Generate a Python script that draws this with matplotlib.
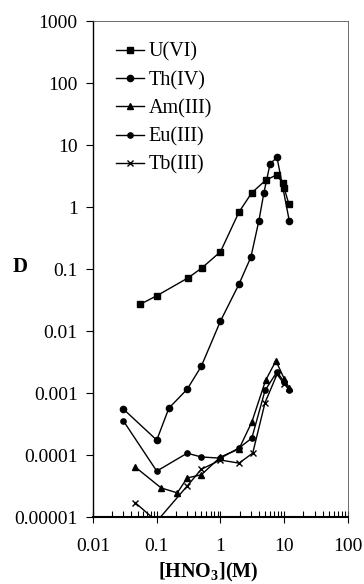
import numpy as np
import matplotlib
matplotlib.use('Agg')
from matplotlib import pyplot as plt
from matplotlib import ticker

plt.rcParams['font.family'] = ['Liberation Serif', 'DejaVu Serif']
plt.rcParams['mathtext.fontset'] = 'custom'
plt.rcParams['mathtext.rm'] = 'Liberation Serif'
plt.rcParams['mathtext.bf'] = 'Liberation Serif:bold'

# data
u_x = [0.055, 0.1, 0.31, 0.51, 1.0, 1.95, 3.1, 5.1, 7.6, 9.6, 10.0, 11.8]
u_y = [0.027, 0.037, 0.072, 0.104, 0.19, 0.83, 1.7, 2.7, 3.3, 2.4, 2.0, 1.12]

th_x = [0.03, 0.1, 0.155, 0.3, 0.5, 1.0, 1.95, 3.0, 4.0, 4.8, 6.0, 7.7, 12.0]
th_y = [0.00055, 0.000174, 0.00057, 0.00115, 0.0027, 0.0145, 0.057, 0.156, 0.6, 1.7, 5.0, 6.3, 0.6]

am_x = [0.046, 0.117, 0.21, 0.3, 0.5, 1.0, 1.95, 3.1, 5.1, 7.4, 10.0, 12.0]
am_y = [0.000064, 0.0000295, 0.0000245, 0.0000427, 0.000048, 0.000093, 0.000125, 0.00034, 0.0016, 0.0033, 0.0017, 0.0012]

eu_x = [0.03, 0.1, 0.3, 0.5, 1.0, 1.95, 3.1, 5.0, 7.7, 10.0, 12.0]
eu_y = [0.000355, 0.000055, 0.000107, 0.000093, 0.000089, 0.00013, 0.000187, 0.0011, 0.0022, 0.0015, 0.0011]

tb_x = [0.046, 0.1, 0.3, 0.5, 1.0, 1.95, 3.2, 5.0, 7.7, 10.0]
tb_y = [0.000017, 0.0000085, 0.0000316, 0.000059, 0.000083, 0.000074, 0.000107, 0.0007, 0.002, 0.0014]

y_ticks = [0.00001, 0.0001, 0.001, 0.01, 0.1, 1, 10, 100, 1000]
y_labels = ['0.00001', '0.0001', '0.001', '0.01', '0.1', '1', '10', '100', '1000']
x_ticks = [0.01, 0.1, 1, 10, 100]
x_labels = ['0.01', '0.1', '1', '10', '100']

fig = plt.figure(figsize=(3.64, 5.84), dpi=100)
ax = fig.add_axes([0.2555, 0.1147, 0.7005, 0.8493])

kw = dict(color='black', lw=1.0)
ax.plot(u_x, u_y, marker='s', ms=4.5, label='U(VI)', **kw)
ax.plot(th_x, th_y, marker='o', ms=4.5, label='Th(IV)', **kw)
ax.plot(am_x, am_y, marker='^', ms=4.5, label='Am(III)', **kw)
ax.plot(eu_x, eu_y, marker='o', ms=3.8, label='Eu(III)', **kw)
ax.plot(tb_x, tb_y, marker='x', ms=5, mew=1.0, label='Tb(III)', **kw)

ax.set_xscale('log')
ax.set_yscale('log')
ax.set_xlim(0.01, 100)
ax.set_ylim(0.00001, 1000)

ax.set_yticks(y_ticks)
ax.set_yticklabels(y_labels)
ax.yaxis.set_minor_locator(ticker.NullLocator())
ax.set_xticks(x_ticks)
ax.set_xticklabels(x_labels)
ax.xaxis.set_minor_locator(ticker.LogLocator(base=10, subs=np.arange(2, 10)))
ax.xaxis.set_minor_formatter(ticker.NullFormatter())

ax.tick_params(axis='y', which='major', direction='out', length=5, width=0.8, pad=6, labelsize=14)
ax.tick_params(axis='x', which='major', direction='inout', length=8, width=0.8, pad=11, labelsize=14)
ax.tick_params(axis='x', which='minor', direction='in', length=4, width=0.8)

ax.spines['bottom'].set_linewidth(1.5)
ax.spines['left'].set_linewidth(1.0)
for s in ['top', 'right']:
    ax.spines[s].set_linewidth(0.6)
    ax.spines[s].set_color('#555555')

ax.set_xlabel('[HNO$_\\mathbf{3}$](M)', fontsize=14.5, fontweight='bold')
ax.xaxis.set_label_coords(0.45, -0.112)
ax.xaxis.label.set_va('center')
ax.set_ylabel('D', fontsize=15, fontweight='bold', rotation=0, va='center', ha='center')
ax.yaxis.set_label_coords(-0.286, 0.504)

ax.legend(loc='upper left', bbox_to_anchor=(0.057, 0.973), frameon=False, fontsize=14.5,
          handlelength=1.4, handletextpad=0.25, labelspacing=0.45, borderaxespad=0)

fig.savefig('out.png', dpi=100)
